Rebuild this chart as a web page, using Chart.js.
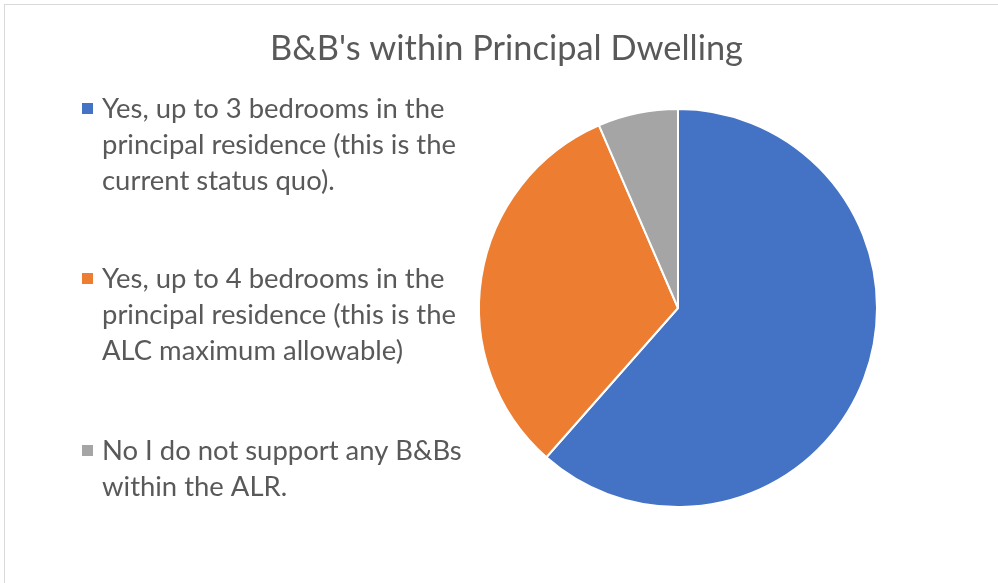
<!DOCTYPE html>
<html>
<head>
<meta charset="utf-8">
<script src="https://cdn.jsdelivr.net/npm/chart.js@4"></script>
<style>
  html, body { margin: 0; padding: 0; background: #fff; overflow: hidden; }
  #wrap { position: relative; width: 998px; height: 583px; }
  #frame { position: absolute; left: 4px; top: 4px; width: 1100px; height: 700px; border: 1px solid #d9d9d9; box-sizing: border-box; }
  canvas { position: absolute; left: 0; top: 0; }
</style>
</head>
<body>
<div id="wrap">
  <div id="frame"></div>
  <canvas id="c" width="998" height="583"></canvas>
</div>
<script>
const title = "B&B's within Principal Dwelling";
const categories = [
  ["Yes, up to 3 bedrooms in the", "principal residence (this is the", "current status quo)."],
  ["Yes, up to 4 bedrooms in the", "principal residence (this is the", "ALC maximum allowable)"],
  ["No I do not support any B&Bs", "within the ALR."]
];
const values = [61.5, 32, 6.5];
const colors = ["#4472C4", "#ED7D31", "#A5A5A5"];

const FONT = "Lato, 'Open Sans', sans-serif";
const TEXT_COLOR = "#595959";

function fitSize(ctx, text, target, weight) {
  ctx.font = (weight || "normal") + " 100px " + FONT;
  const w = ctx.measureText(text).width;
  return 100 * target / w;
}

const textPlugin = {
  id: 'textPlugin',
  afterDraw(chart) {
    const ctx = chart.ctx;
    ctx.save();
    ctx.fillStyle = TEXT_COLOR;
    ctx.textBaseline = 'alphabetic';
    // title
    const ts = fitSize(ctx, title, 473);
    ctx.font = "normal " + ts + "px " + FONT;
    ctx.textAlign = 'center';
    ctx.fillText(title, 506.5, 60);
    // legend
    const ls = fitSize(ctx, "principal residence (this is the", 354);
    ctx.font = "normal " + ls + "px " + FONT;
    ctx.textAlign = 'left';
    const starts = [118, 288, 460];
    const lineH = 36;
    const meta = chart.getDatasetMeta(0);
    chart.data.labels.forEach((lab, i) => {
      const y0 = starts[i];
      ctx.fillStyle = chart.data.datasets[0].backgroundColor[i];
      ctx.fillRect(82, y0 - 15, 11, 11);
      ctx.fillStyle = TEXT_COLOR;
      lab.forEach((line, j) => ctx.fillText(line, 102, y0 + j * lineH));
    });
    ctx.restore();
  }
};

new Chart(document.getElementById('c'), {
  type: 'pie',
  data: {
    labels: categories,
    datasets: [{
      data: values,
      backgroundColor: colors,
      borderColor: '#ffffff',
      borderWidth: 2,
      hoverOffset: 0
    }]
  },
  options: {
    responsive: false,
    animation: false,
    layout: { padding: { left: 478, right: 120, top: 108, bottom: 75 } },
    plugins: {
      legend: { display: false },
      title: { display: false },
      tooltip: { enabled: false }
    }
  },
  plugins: [textPlugin]
});
</script>
</body>
</html>
